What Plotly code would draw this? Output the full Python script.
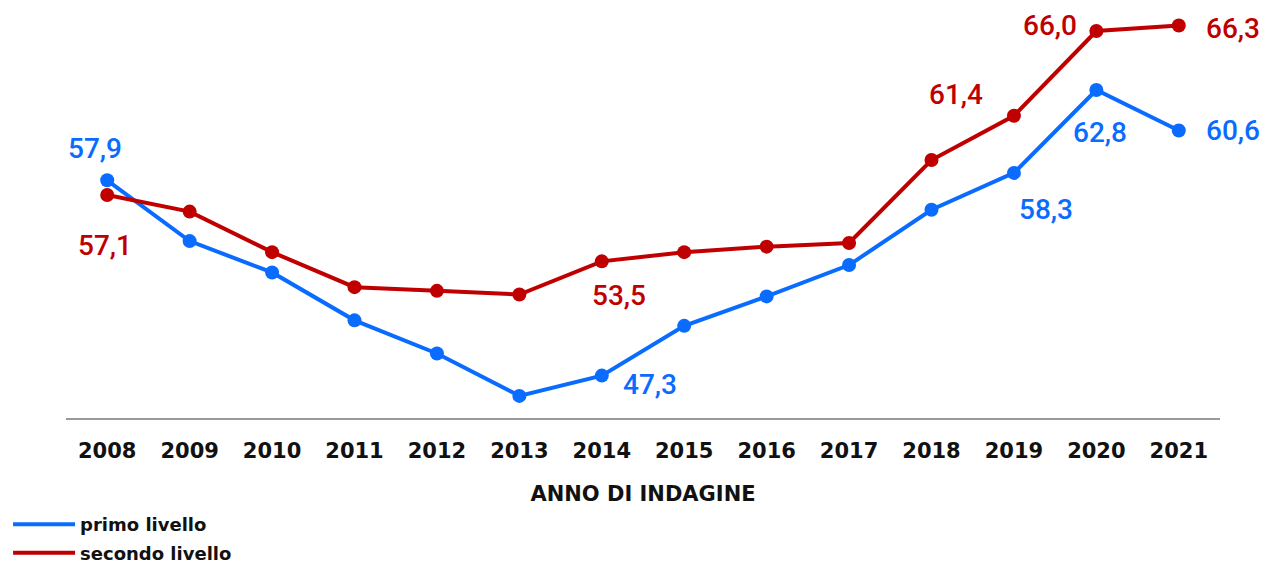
import plotly.graph_objects as go

anni = ["2008", "2009", "2010", "2011", "2012", "2013", "2014",
        "2015", "2016", "2017", "2018", "2019", "2020", "2021"]
primo = [57.9, 54.6, 52.9, 50.3, 48.5, 46.2, 47.3, 50.0, 51.6, 53.3, 56.3, 58.3, 62.8, 60.6]
secondo = [57.1, 56.2, 54.0, 52.1, 51.9, 51.7, 53.5, 54.0, 54.3, 54.5, 59.0, 61.4, 66.0, 66.3]

BLUE = "#0a6cff"
RED = "#c00000"

# labelled points: (year, xshift, yshift)
lab_primo = [("2008", -12, 32), ("2014", 48, -9), ("2019", 32, -37), ("2020", 4, -42), ("2021", 54, 0)]
lab_secondo = [("2008", -2, -50), ("2014", 17, -34), ("2019", -58, 21), ("2020", -46, 6), ("2021", 54, -3)]

fig = go.Figure()
fig.add_trace(go.Scatter(x=anni, y=primo, mode="lines+markers", name="primo livello",
                         line=dict(color=BLUE, width=4), marker=dict(size=14, color=BLUE),
                         showlegend=False, cliponaxis=False))
fig.add_trace(go.Scatter(x=anni, y=secondo, mode="lines+markers", name="secondo livello",
                         line=dict(color=RED, width=4), marker=dict(size=14, color=RED),
                         showlegend=False, cliponaxis=False))
fig.add_trace(go.Scatter(x=[None], y=[None], mode="lines", name="primo livello",
                         line=dict(color=BLUE, width=4), legendgroup="a"))
fig.add_trace(go.Scatter(x=[None], y=[None], mode="lines", name="secondo livello",
                         line=dict(color=RED, width=4), legendgroup="b"))

def fmt(v):
    return f"{v:.1f}".replace(".", ",")

for lst, vals, col in ((lab_primo, primo, BLUE), (lab_secondo, secondo, RED)):
    for yr, dx, dy in lst:
        i = anni.index(yr)
        v = vals[i]
        fig.add_annotation(x=i, y=v, xref="x", yref="y", text=fmt(v), showarrow=False,
                           xshift=dx, yshift=dy, borderpad=0,
                           font=dict(family="Roboto", size=28, color=col, weight=500))

fig.update_layout(
    width=1266, height=567,
    margin=dict(l=58, r=54, t=0, b=157),
    plot_bgcolor="white", paper_bgcolor="white",
    font=dict(family="DejaVu Sans", color="#111111"),
    xaxis=dict(type="category", range=[-0.5, 13.5], showgrid=False, showline=True,
               linecolor="#999999", linewidth=1.5, ticks="", ticklabelstandoff=13,
               tickfont=dict(family="DejaVu Sans", size=21, color="#111111", weight="bold"),
               title=dict(text="ANNO DI INDAGINE", standoff=24,
                          font=dict(family="DejaVu Sans", size=21, color="#111111", weight="bold"))),
    yaxis=dict(range=[45, 67.25], visible=False, showgrid=False),
    legend=dict(x=-0.0502, y=-0.215, xanchor="left", yanchor="top", tracegroupgap=2,
                itemwidth=62,
                font=dict(family="DejaVu Sans", size=18, color="#111111", weight="bold")),
)

fig.write_html("out.html")
